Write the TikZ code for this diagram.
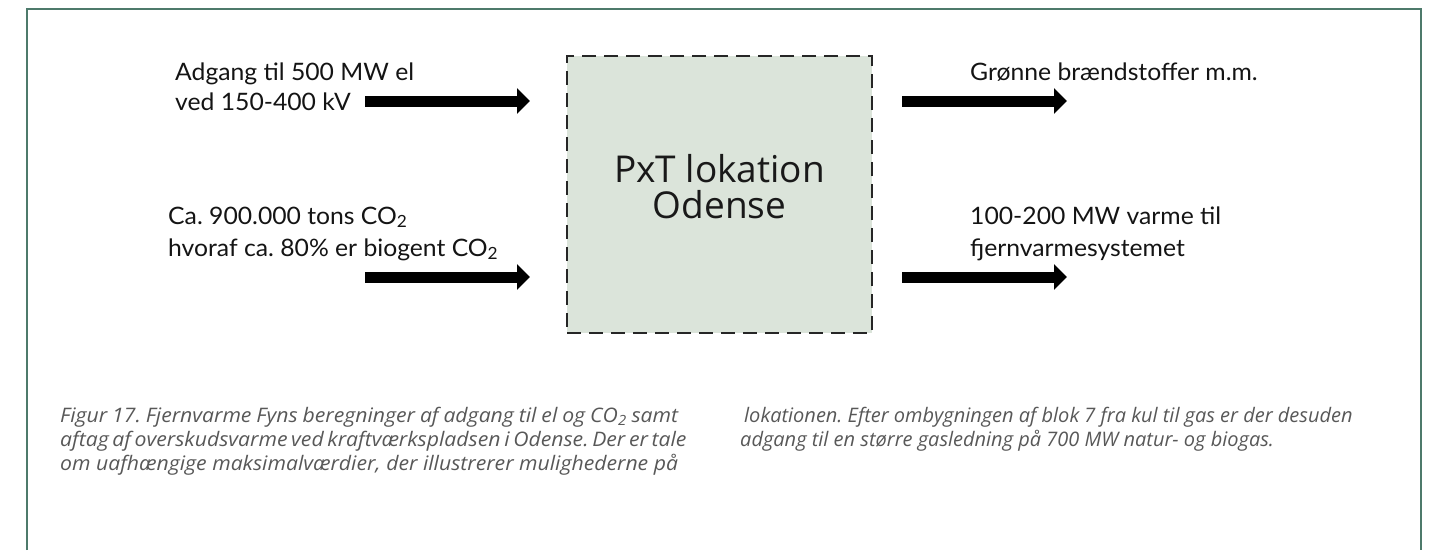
\documentclass[tikz,border=0pt]{standalone}
\usepackage{fontspec}
\setmainfont{Lato}[FakeStretch=1.03]
\newfontfamily\boxfont{Open Sans}
\newfontfamily\capfont{Open Sans}[FakeStretch=1.06]
\newfontfamily\capfontR{Open Sans}
\usetikzlibrary{arrows.meta}
\definecolor{framecol}{HTML}{4D7A6B}
\definecolor{boxfill}{HTML}{DBE4DA}
\definecolor{captcol}{HTML}{585858}
\frenchspacing
\tikzset{
  lbl/.style={anchor=base west, inner sep=0pt, font=\fontsize{24}{28}\selectfont, text=black!92},
  capt/.style={anchor=base west, inner sep=0pt, font=\fontsize{20}{24}\capfont\itshape\frenchspacing, text=captcol},
  captR/.style={anchor=base west, inner sep=0pt, font=\fontsize{20}{24}\capfontR\itshape\frenchspacing, text=captcol},
  fatarrow/.style={line width=11pt, -{Triangle[length=13pt,width=25pt]}},
  centrebox/.style={draw=black!85, fill=boxfill, line width=2.4pt, dash pattern=on 14pt off 8pt, minimum width=305pt, minimum height=277pt, inner sep=0pt},
  boxtxt/.style={anchor=base, inner sep=0pt, font=\fontsize{37}{36}\boxfont, text=black!90}
}
\begin{document}
\begin{tikzpicture}[x=1pt,y=-1pt]
\useasboundingbox (0,0) rectangle (1430,550);
% frame (open at bottom)
\draw[framecol, line width=2pt] (27,550) -- (27,9) -- (1421,9) -- (1421,550);
% centre box
\node[centrebox] (box) at (719.5,194.5) {};
\node[boxtxt] (boxt1) at (719.5,182) {PxT lokation};
\node[boxtxt] (boxt2) at (719.5,218) {Odense};
% left labels
\node[lbl] (l1a) at (175,80) {Adgang til 500 MW el};
\node[lbl] (l1b) at (175,110) {ved 150-400 kV};
\node[lbl] (l2a) at (168,224) {Ca. 900.000 tons CO\textsubscript{2}};
\node[lbl] (l2b) at (168,256) {hvoraf ca. 80\% er biogent CO\textsubscript{2}};
% right labels
\node[lbl] (r1a) at (970,80) {Grønne brændstoffer m.m.};
\node[lbl] (r2a) at (970,224) {100-200 MW varme til};
\node[lbl] (r2b) at (970,256) {fjernvarmesystemet};
% arrow end points
\coordinate (i1s) at (365,101);
\coordinate (i1e) at (530,101);
\coordinate (i2s) at (365,277);
\coordinate (i2e) at (530,277);
\coordinate (o1s) at (902,101);
\coordinate (o1e) at (1067,101);
\coordinate (o2s) at (902,277);
\coordinate (o2e) at (1067,277);
\draw[fatarrow] (i1s) -- (i1e);
\draw[fatarrow] (i2s) -- (i2e);
\draw[fatarrow] (o1s) -- (o1e);
\draw[fatarrow] (o2s) -- (o2e);
% caption
\node[capt] (c1) at (60,422) {\makebox[618pt][s]{Figur 17. Fjernvarme Fyns beregninger af adgang til el og CO\textsubscript{2} samt}};
\node[capt] (c2) at (60,446) {\makebox[618pt][s]{aftag af overskudsvarme ved kraftværkspladsen i Odense. Der er tale}};
\node[capt] (c3) at (60,470) {\makebox[618pt][s]{om uafhængige maksimalværdier, der illustrerer mulighederne på}};
\node[captR] (c4) at (744,422) {lokationen. Efter ombygningen af blok 7 fra kul til gas er der desuden};
\node[captR] (c5) at (740,446) {adgang til en større gasledning på 700 MW natur- og biogas.};
\end{tikzpicture}
\end{document}
